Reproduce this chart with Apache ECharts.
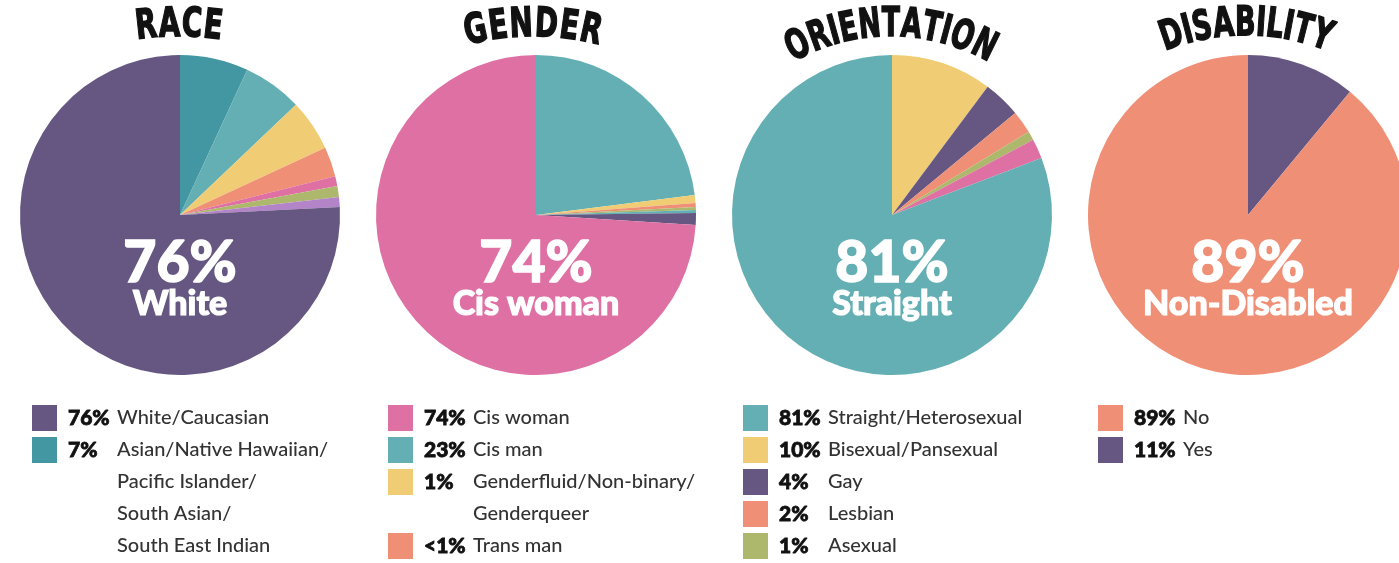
<!DOCTYPE html>
<html>
<head>
<meta charset="utf-8">
<script src="https://cdn.jsdelivr.net/npm/echarts@6/dist/echarts.min.js"></script>
<style>
  html, body { margin: 0; padding: 0; background: #fff; }
  #chart { width: 1399px; height: 563px; }
</style>
</head>
<body>
<div id="chart"></div>
<script>
  // ---- data ----
  const raceNames = ['Asian/Native Hawaiian/Pacific Islander/South Asian/South East Indian', 'Race other 1', 'Race other 2', 'Race other 3', 'Race other 4', 'Race other 5', 'Race other 6', 'White/Caucasian'];
  const raceValues = [6.9, 6, 5.2, 3, 1, 1.1, 1, 75.8];
  const raceLegend = ['White/Caucasian', 'Asian/Native Hawaiian/Pacific Islander/South Asian/South East Indian'];
  const raceLegendPct = ['76%', '7%'];

  const genderNames = ['Cis man', 'Genderfluid/Non-binary/Genderqueer', 'Trans man', 'Gender other 1', 'Gender other 2', 'Gender other 3', 'Cis woman'];
  const genderValues = [23, 0.8, 0.4, 0.3, 0.3, 1.2, 74];
  const genderLegend = ['Cis woman', 'Cis man', 'Genderfluid/Non-binary/Genderqueer'];
  const genderLegendPct = ['74%', '23%', '1%'];
  const genderLegend2 = ['Trans man'];
  const genderLegend2Pct = ['<1%'];

  const orientNames = ['Bisexual/Pansexual', 'Gay', 'Lesbian', 'Asexual', 'Orientation other', 'Straight/Heterosexual'];
  const orientValues = [10.2, 3.8, 2.3, 0.9, 2, 80.8];
  const orientLegend = ['Straight/Heterosexual', 'Bisexual/Pansexual', 'Gay', 'Lesbian', 'Asexual'];
  const orientLegendPct = ['81%', '10%', '4%', '2%', '1%'];

  const disNames = ['Yes', 'No'];
  const disValues = [11, 89];
  const disLegend = ['No', 'Yes'];
  const disLegendPct = ['89%', '11%'];

  const titles = ['RACE', 'GENDER', 'ORIENTATION', 'DISABILITY'];
  const bigPct = ['76%', '74%', '81%', '89%'];
  const bigLabel = ['White', 'Cis woman', 'Straight', 'Non-Disabled'];

  // how legend names wrap onto lines
  const legendLines = {
    'Asian/Native Hawaiian/Pacific Islander/South Asian/South East Indian': ['Asian/Native Hawaiian/', 'Pacific Islander/', 'South Asian/', 'South East Indian'],
    'Genderfluid/Non-binary/Genderqueer': ['Genderfluid/Non-binary/', 'Genderqueer']
  };

  // ---- colours ----
  const PURPLE = '#655781', DTEAL = '#4297a2', TEAL = '#63afb3', YELLOW = '#f0cd74',
        SALMON = '#ef8f76', PINK = '#df70a3', GREEN = '#adb86c', LPURPLE = '#b385c8';
  const raceColors = [DTEAL, TEAL, YELLOW, SALMON, PINK, GREEN, LPURPLE, PURPLE];
  const genderColors = [TEAL, YELLOW, SALMON, GREEN, TEAL, PURPLE, PINK];
  const orientColors = [YELLOW, PURPLE, SALMON, GREEN, PINK, TEAL];
  const disColors = [PURPLE, SALMON];

  const pieCx = [180, 536, 892, 1248];
  const pieCy = 215;
  const pieR = 160;

  const pctMap = {};
  [[raceLegend, raceLegendPct], [genderLegend, genderLegendPct], [genderLegend2, genderLegend2Pct],
   [orientLegend, orientLegendPct], [disLegend, disLegendPct]].forEach(([n, p]) => {
    n.forEach((name, i) => { pctMap[name] = p[i]; });
  });

  function pieSeries(names, values, colors, cx) {
    return {
      type: 'pie',
      center: [cx, pieCy],
      radius: pieR,
      startAngle: 90,
      clockwise: true,
      silent: true,
      z: 1,
      label: { show: false },
      labelLine: { show: false },
      itemStyle: { borderWidth: 0 },
      data: names.map((n, i) => ({ name: n, value: values[i], itemStyle: { color: colors[i] } }))
    };
  }

  const FONT = 'Lato';
  const rich = {
    p: { fontFamily: FONT, fontWeight: 900, fontSize: 21, color: '#111', textBorderColor: '#111', textBorderWidth: 0.8, width: 49, padding: [0, 0, 0, 6] },
    n: { fontFamily: FONT, fontWeight: 500, fontSize: 20, color: '#333' }
  };

  function legend(data, left, top) {
    return {
      orient: 'vertical', left, top, padding: 0, itemGap: 6,
      itemWidth: 25, itemHeight: 26, icon: 'rect', selectedMode: false,
      data,
      formatter: name => `{p|${pctMap[name]}}{n|${(legendLines[name] || [name])[0]}}`,
      textStyle: { rich }
    };
  }

  // curved titles
  const ctx = document.createElement('canvas').getContext('2d');
  const TITLE_FAMILY = '"DejaVu Sans", sans-serif';
  function arcTitle(text, cx, baseY, R, size, sx, spacing) {
    ctx.font = `bold ${size}px ${TITLE_FAMILY}`;
    const chars = [...text];
    const widths = chars.map(c => ctx.measureText(c).width * sx);
    const total = widths.reduce((a, b) => a + b, 0) + spacing * (chars.length - 1);
    let s = -total / 2;
    return chars.map((c, i) => {
      const phi = (s + widths[i] / 2) / R;
      s += widths[i] + spacing;
      return {
        type: 'text',
        z: 10,
        x: cx + R * Math.sin(phi),
        y: baseY + R - R * Math.cos(phi),
        rotation: -phi,
        scaleX: sx,
        style: {
          text: c, fontSize: size, fontWeight: 'bold', fontFamily: TITLE_FAMILY,
          fill: '#111', stroke: '#111', lineWidth: 1.5, align: 'center', verticalAlign: 'bottom'
        }
      };
    });
  }

  const graphics = [];
  graphics.push(...arcTitle(titles[0], 179, 46, 280, 41, 0.68, 0));
  graphics.push(...arcTitle(titles[1], 533, 46, 250, 41, 0.68, 0));
  graphics.push(...arcTitle(titles[2], 891, 46, 190, 41, 0.65, -1));
  graphics.push(...arcTitle(titles[3], 1246, 45, 210, 41, 0.66, -1));

  pieCx.forEach((cx, i) => {
    graphics.push({
      type: 'text', z: 100, x: cx, y: 264,
      style: { text: bigPct[i], fontFamily: FONT, fontWeight: 900, fontSize: 57, fill: '#fff', stroke: '#fff', lineWidth: 1.5, align: 'center', verticalAlign: 'middle' }
    });
    graphics.push({
      type: 'text', z: 100, x: cx, y: 304,
      style: { text: bigLabel[i], fontFamily: FONT, fontWeight: 900, fontSize: 34, fill: '#fff', stroke: '#fff', lineWidth: 1.2, align: 'center', verticalAlign: 'middle' }
    });
  });

  // continuation lines of wrapped legend labels
  function extraLines(name, x, y0) {
    legendLines[name].slice(1).forEach((line, i) => {
      graphics.push({
        type: 'text', z: 10, x, y: y0 + i * 32,
        style: { text: line, fontFamily: FONT, fontWeight: 500, fontSize: 20, fill: '#333', align: 'left', verticalAlign: 'middle' }
      });
    });
  }
  extraLines(raceLegend[1], 117, 482);
  extraLines(genderLegend[2], 473, 514);

  const chart = echarts.init(document.getElementById('chart'));
  chart.setOption({
    animation: false,
    backgroundColor: '#fff',
    legend: [
      legend(raceLegend, 32, 405),
      legend(genderLegend, 388, 405),
      legend(genderLegend2, 388, 533),
      legend(orientLegend, 743, 405),
      legend(disLegend, 1098, 405)
    ],
    series: [
      pieSeries(raceNames, raceValues, raceColors, pieCx[0]),
      pieSeries(genderNames, genderValues, genderColors, pieCx[1]),
      pieSeries(orientNames, orientValues, orientColors, pieCx[2]),
      pieSeries(disNames, disValues, disColors, pieCx[3])
    ],
    graphic: graphics
  });
</script>
</body>
</html>
